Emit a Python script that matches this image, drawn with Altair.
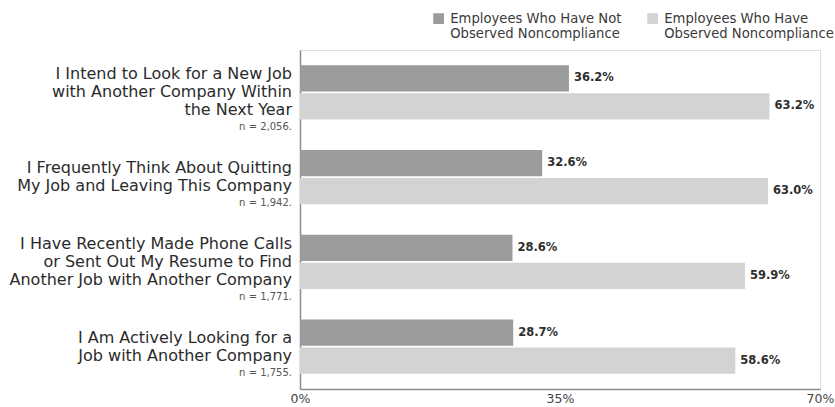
import altair as alt
import pandas as pd

categories = [
    "I Intend to Look for a New Job\nwith Another Company Within\nthe Next Year",
    "I Frequently Think About Quitting\nMy Job and Leaving This Company",
    "I Have Recently Made Phone Calls\nor Sent Out My Resume to Find\nAnother Job with Another Company",
    "I Am Actively Looking for a\nJob with Another Company",
]
sample_sizes = ["n = 2,056.", "n = 1,942.", "n = 1,771.", "n = 1,755."]
series = [
    "Employees Who Have Not|Observed Noncompliance",
    "Employees Who Have|Observed Noncompliance",
]
not_observed = [36.2, 32.6, 28.6, 28.7]
observed = [63.2, 63.0, 59.9, 58.6]
x_ticks = [0, 35, 70]

rows = []
for c, a, b in zip(categories, not_observed, observed):
    rows.append({"cat": c, "series": series[0], "value": a})
    rows.append({"cat": c, "series": series[1], "value": b})
bars_df = pd.DataFrame(rows)

lab_df = pd.DataFrame({
    "cat": categories,
    "ntext": sample_sizes,
    "lines": [c.count("\n") + 1 for c in categories],
})

FONT = "DejaVu Sans"
LH = 18

y_enc = alt.Y(
    "cat:N",
    sort=categories,
    scale=alt.Scale(paddingInner=0.36, paddingOuter=0.18),
    axis=alt.Axis(labels=False, ticks=False, title=None, domain=True,
                  domainColor="#8c8c8c", domainWidth=1.5),
)
x_enc = alt.X(
    "value:Q",
    scale=alt.Scale(domain=[0, 70], nice=False),
    axis=alt.Axis(values=x_ticks, labelExpr="datum.value + '%'", title=None,
                  grid=False, ticks=False, domainColor="#8c8c8c", domainWidth=1.5,
                  labelFont=FONT, labelFontSize=12.5, labelColor="#444444",
                  labelPadding=3, labelFlush=False),
)

base = alt.Chart(bars_df)

bars = base.mark_bar().encode(
    x=x_enc,
    y=y_enc,
    yOffset=alt.YOffset("series:N", sort=series, scale=alt.Scale(paddingInner=0.06)),
    color=alt.Color(
        "series:N",
        sort=series,
        scale=alt.Scale(domain=series, range=["#9b9b9b", "#d3d3d3"]),
        legend=alt.Legend(
            title=None, orient="none", direction="horizontal",
            legendX=132, legendY=-38,
            symbolType="square", symbolSize=115, symbolStrokeWidth=0,
            labelExpr="split(datum.label, '|')",
            labelFont=FONT, labelFontSize=13.2, labelColor="#3a3a3a",
            labelLimit=300, labelOffset=5, columnPadding=24,
        ),
    ),
)

values = base.transform_calculate(
    lbl="format(datum.value, '.1f') + '%'"
).mark_text(
    align="left", baseline="middle", dx=5, font=FONT, fontSize=11.5,
    fontWeight="bold", color="#2e2e2e",
).encode(
    x="value:Q",
    y=alt.Y("cat:N", sort=categories),
    yOffset=alt.YOffset("series:N", sort=series),
    text="lbl:N",
)

lab_base = alt.Chart(lab_df)
label_layers = []
for L in sorted(set(lab_df["lines"])):
    half = (L - 1) * LH / 2
    label_layers.append(
        lab_base.transform_filter(f"datum.lines == {L}").mark_text(
            align="right", baseline="middle", lineBreak="\n", lineHeight=LH,
            font=FONT, fontSize=16, color="#2b2b2b", dy=-half,
        ).encode(
            x=alt.value(-8),
            y=alt.Y("cat:N", sort=categories),
            text="cat:N",
        )
    )
    label_layers.append(
        lab_base.transform_filter(f"datum.lines == {L}").mark_text(
            align="right", baseline="middle", font=FONT, fontSize=10,
            color="#555555", dy=half + 17,
        ).encode(
            x=alt.value(-8),
            y=alt.Y("cat:N", sort=categories),
            text="ntext:N",
        )
    )

chart = alt.layer(bars, values, *label_layers).properties(
    width=520,
    height=339,
    autosize=alt.AutoSizeParams(type="none"),
    padding={"left": 300, "top": 50, "right": 15, "bottom": 18},
).configure_view(stroke=None).configure(background="white")

chart.save("out.html", embed_options={"renderer": "svg", "actions": False})
